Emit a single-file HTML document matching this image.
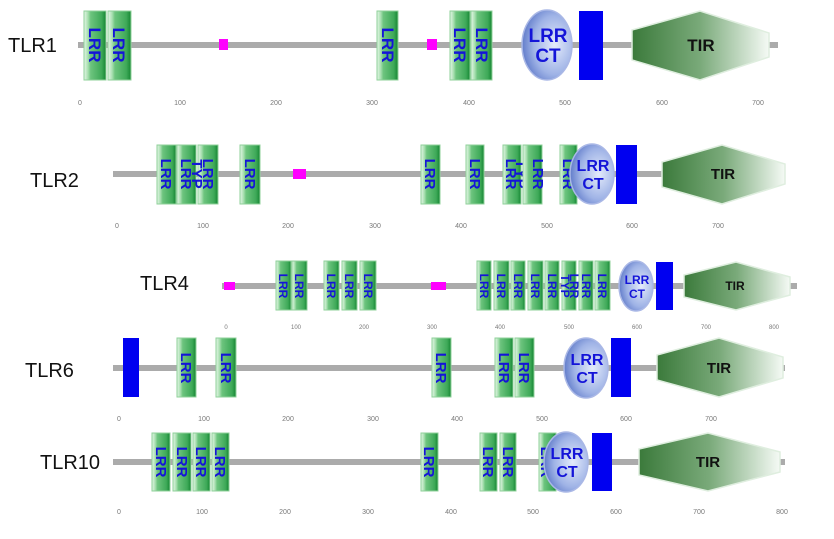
<!DOCTYPE html>
<html><head><meta charset="utf-8"><style>
body{margin:0;background:#fff}
svg{display:block}
.lb{font-family:"Liberation Sans",sans-serif;font-size:20px;fill:#111}
.t{font-family:"Liberation Sans",sans-serif;font-weight:bold;fill:#1414d8;text-anchor:middle}
.tk{font-family:"Liberation Sans",sans-serif;font-size:7px;fill:#777;text-anchor:middle}
.tir{font-family:"Liberation Sans",sans-serif;font-weight:bold;fill:#111;text-anchor:middle}
.ln{fill:#ababab}
.bx{fill:url(#gb);stroke:#8fd09a;stroke-width:1}
.el{fill:url(#ge);stroke:#aab8e6;stroke-width:1.5}
.hx{fill:url(#gt);stroke:#dfeedf;stroke-width:1.5}
</style></head><body>
<svg width="834" height="539" viewBox="0 0 834 539" xmlns="http://www.w3.org/2000/svg">
<defs>
<linearGradient id="gb" x1="0" x2="1" y1="0" y2="0">
<stop offset="0" stop-color="#e6f7e8"/><stop offset="0.18" stop-color="#a8dfb0"/><stop offset="0.3" stop-color="#6dc47e"/><stop offset="0.8" stop-color="#3ea958"/><stop offset="1" stop-color="#158532"/></linearGradient>
<radialGradient id="ge" cx="0.65" cy="0.5" r="0.7"><stop offset="0" stop-color="#e4ebfb"/><stop offset="0.6" stop-color="#9fb3e6"/><stop offset="1" stop-color="#5470c4"/></radialGradient>
<linearGradient id="gt" x1="0" x2="1" y1="0" y2="0"><stop offset="0" stop-color="#3b7a3b"/><stop offset="0.5" stop-color="#7aaa7a"/><stop offset="1" stop-color="#f5faf5"/></linearGradient>
</defs>

<!-- TLR1 -->
<text class="lb" x="8" y="52">TLR1</text>
<rect class="ln" x="78" y="42" width="700" height="6"/>
<rect class="bx" x="84" y="11" width="22" height="69"/><text class="t" font-size="17" transform="translate(95,45) rotate(90)" dy="6">LRR</text>
<rect class="bx" x="108" y="11" width="23" height="69"/><text class="t" font-size="17" transform="translate(119,45) rotate(90)" dy="6">LRR</text>
<rect x="219" y="39" width="9" height="11" fill="#ff00ff"/>
<rect class="bx" x="377" y="11" width="21" height="69"/><text class="t" font-size="17" transform="translate(388,45) rotate(90)" dy="6">LRR</text>
<rect x="427" y="39" width="10" height="11" fill="#ff00ff"/>
<rect class="bx" x="450" y="11" width="20" height="69"/><text class="t" font-size="17" transform="translate(460,45) rotate(90)" dy="6">LRR</text>
<rect class="bx" x="471" y="11" width="21" height="69"/><text class="t" font-size="17" transform="translate(482,45) rotate(90)" dy="6">LRR</text>
<ellipse class="el" cx="547" cy="45" rx="25" ry="35"/><text class="t" font-size="19" x="548" y="42">LRR</text><text class="t" font-size="19" x="548" y="62">CT</text>
<rect x="579" y="11" width="24" height="69" fill="#0000f0"/>
<polygon class="hx" points="632,30 700,11 769,33 769,57 700,80 632,60"/><text class="tir" font-size="17" x="701" y="51">TIR</text>
<g class="tk"><text x="80" y="105">0</text><text x="180" y="105">100</text><text x="276" y="105">200</text><text x="372" y="105">300</text><text x="469" y="105">400</text><text x="565" y="105">500</text><text x="662" y="105">600</text><text x="758" y="105">700</text></g>

<!-- TLR2 -->
<text class="lb" x="30" y="187">TLR2</text>
<rect class="ln" x="113" y="171" width="672" height="6"/>
<rect class="bx" x="157" y="145" width="19" height="59"/><text class="t" font-size="15" transform="translate(166,174) rotate(90)" dy="5">LRR</text>
<rect class="bx" x="177" y="145" width="19" height="59"/><text class="t" font-size="15" transform="translate(186,174) rotate(90)" dy="5">LRR</text>
<rect class="bx" x="198" y="145" width="20" height="59"/><text class="t" font-size="15" transform="translate(208,174) rotate(90)" dy="5">LRR</text><text class="t" font-size="15" transform="translate(197,174) rotate(90)" dy="5">TYP</text>
<rect class="bx" x="240" y="145" width="20" height="59"/><text class="t" font-size="15" transform="translate(250,174) rotate(90)" dy="5">LRR</text>
<rect x="293" y="169" width="13" height="10" fill="#ff00ff"/>
<rect class="bx" x="421" y="145" width="19" height="59"/><text class="t" font-size="15" transform="translate(430,174) rotate(90)" dy="5">LRR</text>
<rect class="bx" x="466" y="145" width="18" height="59"/><text class="t" font-size="15" transform="translate(475,174) rotate(90)" dy="5">LRR</text>
<rect class="bx" x="503" y="145" width="18" height="59"/><text class="t" font-size="15" transform="translate(511,174) rotate(90)" dy="5">LRR</text><text class="t" font-size="15" transform="translate(521,174) rotate(90)" dy="5">TYP</text>
<rect class="bx" x="523" y="145" width="19" height="59"/><text class="t" font-size="15" transform="translate(538,174) rotate(90)" dy="5">LRR</text>
<rect class="bx" x="560" y="145" width="17" height="59"/><text class="t" font-size="15" transform="translate(568,174) rotate(90)" dy="5">LRR</text>
<ellipse class="el" cx="592" cy="174" rx="22" ry="30"/><text class="t" font-size="16" x="593" y="171">LRR</text><text class="t" font-size="16" x="593" y="189">CT</text>
<rect x="616" y="145" width="21" height="59" fill="#0000f0"/>
<polygon class="hx" points="662,162 722,145 785,164 785,184 722,204 662,187"/><text class="tir" font-size="15" x="723" y="179">TIR</text>
<g class="tk"><text x="117" y="228">0</text><text x="203" y="228">100</text><text x="288" y="228">200</text><text x="375" y="228">300</text><text x="461" y="228">400</text><text x="547" y="228">500</text><text x="632" y="228">600</text><text x="718" y="228">700</text></g>

<!-- TLR4 -->
<text class="lb" x="140" y="290">TLR4</text>
<rect class="ln" x="222" y="283" width="575" height="6"/>
<rect x="224" y="282" width="11" height="8" fill="#ff00ff"/>
<rect x="431" y="282" width="15" height="8" fill="#ff00ff"/>
<g>
<rect class="bx" x="276" y="261" width="15" height="49"/><text class="t" font-size="12" transform="translate(283,286) rotate(90)" dy="4">LRR</text>
<rect class="bx" x="292" y="261" width="15" height="49"/><text class="t" font-size="12" transform="translate(299,286) rotate(90)" dy="4">LRR</text>
<rect class="bx" x="324" y="261" width="15" height="49"/><text class="t" font-size="12" transform="translate(331,286) rotate(90)" dy="4">LRR</text>
<rect class="bx" x="342" y="261" width="15" height="49"/><text class="t" font-size="12" transform="translate(349,286) rotate(90)" dy="4">LRR</text>
<rect class="bx" x="360" y="261" width="16" height="49"/><text class="t" font-size="12" transform="translate(368,286) rotate(90)" dy="4">LRR</text>
<rect class="bx" x="477" y="261" width="14" height="49"/><text class="t" font-size="12" transform="translate(484,286) rotate(90)" dy="4">LRR</text>
<rect class="bx" x="494" y="261" width="15" height="49"/><text class="t" font-size="12" transform="translate(501,286) rotate(90)" dy="4">LRR</text>
<rect class="bx" x="511" y="261" width="14" height="49"/><text class="t" font-size="12" transform="translate(518,286) rotate(90)" dy="4">LRR</text>
<rect class="bx" x="528" y="261" width="15" height="49"/><text class="t" font-size="12" transform="translate(535,286) rotate(90)" dy="4">LRR</text>
<rect class="bx" x="545" y="261" width="14" height="49"/><text class="t" font-size="12" transform="translate(552,286) rotate(90)" dy="4">LRR</text>
<rect class="bx" x="562" y="261" width="14" height="49"/><text class="t" font-size="12" transform="translate(565,286) rotate(90)" dy="4">TYP</text><text class="t" font-size="12" transform="translate(574,286) rotate(90)" dy="4">LRR</text>
<rect class="bx" x="579" y="261" width="14" height="49"/><text class="t" font-size="12" transform="translate(586,286) rotate(90)" dy="4">LRR</text>
<rect class="bx" x="595" y="261" width="15" height="49"/><text class="t" font-size="12" transform="translate(602,286) rotate(90)" dy="4">LRR</text>
</g>
<ellipse class="el" cx="636" cy="286" rx="17" ry="25"/><text class="t" font-size="12" x="637" y="284">LRR</text><text class="t" font-size="12" x="637" y="298">CT</text>
<rect x="656" y="262" width="17" height="48" fill="#0000f0"/>
<polygon class="hx" points="684,275 736,262 790,277 790,295 736,310 684,297"/><text class="tir" font-size="12" x="735" y="290">TIR</text>
<g class="tk" style="font-size:6px"><text x="226" y="329">0</text><text x="296" y="329">100</text><text x="364" y="329">200</text><text x="432" y="329">300</text><text x="500" y="329">400</text><text x="569" y="329">500</text><text x="637" y="329">600</text><text x="706" y="329">700</text><text x="774" y="329">800</text></g>

<!-- TLR6 -->
<text class="lb" x="25" y="377">TLR6</text>
<rect class="ln" x="113" y="365" width="672" height="6"/>
<rect x="123" y="338" width="16" height="59" fill="#0000f0"/>
<rect class="bx" x="177" y="338" width="19" height="59"/><text class="t" font-size="15" transform="translate(186,368) rotate(90)" dy="5">LRR</text>
<rect class="bx" x="216" y="338" width="20" height="59"/><text class="t" font-size="15" transform="translate(226,368) rotate(90)" dy="5">LRR</text>
<rect class="bx" x="432" y="338" width="19" height="59"/><text class="t" font-size="15" transform="translate(441,368) rotate(90)" dy="5">LRR</text>
<rect class="bx" x="495" y="338" width="18" height="59"/><text class="t" font-size="15" transform="translate(504,368) rotate(90)" dy="5">LRR</text>
<rect class="bx" x="515" y="338" width="19" height="59"/><text class="t" font-size="15" transform="translate(524,368) rotate(90)" dy="5">LRR</text>
<ellipse class="el" cx="586" cy="368" rx="22" ry="30"/><text class="t" font-size="16" x="587" y="365">LRR</text><text class="t" font-size="16" x="587" y="383">CT</text>
<rect x="611" y="338" width="20" height="59" fill="#0000f0"/>
<polygon class="hx" points="657,355 719,338 783,357 783,378 719,397 657,380"/><text class="tir" font-size="15" x="719" y="373">TIR</text>
<g class="tk"><text x="119" y="421">0</text><text x="204" y="421">100</text><text x="288" y="421">200</text><text x="373" y="421">300</text><text x="457" y="421">400</text><text x="542" y="421">500</text><text x="626" y="421">600</text><text x="711" y="421">700</text></g>

<!-- TLR10 -->
<text class="lb" x="40" y="469">TLR10</text>
<rect class="ln" x="113" y="459" width="672" height="6"/>
<rect class="bx" x="152" y="433" width="18" height="58"/><text class="t" font-size="15" transform="translate(161,462) rotate(90)" dy="5">LRR</text>
<rect class="bx" x="173" y="433" width="18" height="58"/><text class="t" font-size="15" transform="translate(182,462) rotate(90)" dy="5">LRR</text>
<rect class="bx" x="193" y="433" width="17" height="58"/><text class="t" font-size="15" transform="translate(201,462) rotate(90)" dy="5">LRR</text>
<rect class="bx" x="212" y="433" width="17" height="58"/><text class="t" font-size="15" transform="translate(220,462) rotate(90)" dy="5">LRR</text>
<rect class="bx" x="421" y="433" width="17" height="58"/><text class="t" font-size="15" transform="translate(429,462) rotate(90)" dy="5">LRR</text>
<rect class="bx" x="480" y="433" width="17" height="58"/><text class="t" font-size="15" transform="translate(488,462) rotate(90)" dy="5">LRR</text>
<rect class="bx" x="500" y="433" width="16" height="58"/><text class="t" font-size="15" transform="translate(508,462) rotate(90)" dy="5">LRR</text>
<rect class="bx" x="539" y="433" width="17" height="58"/><text class="t" font-size="15" transform="translate(546,462) rotate(90)" dy="5">LRR</text>
<ellipse class="el" cx="566" cy="462" rx="22" ry="30"/><text class="t" font-size="16" x="567" y="459">LRR</text><text class="t" font-size="16" x="567" y="477">CT</text>
<rect x="592" y="433" width="20" height="58" fill="#0000f0"/>
<polygon class="hx" points="639,449 708,433 780,452 780,472 708,491 639,475"/><text class="tir" font-size="15" x="708" y="467">TIR</text>
<g class="tk"><text x="119" y="514">0</text><text x="202" y="514">100</text><text x="285" y="514">200</text><text x="368" y="514">300</text><text x="451" y="514">400</text><text x="533" y="514">500</text><text x="616" y="514">600</text><text x="699" y="514">700</text><text x="782" y="514">800</text></g>
</svg>
</body></html>
